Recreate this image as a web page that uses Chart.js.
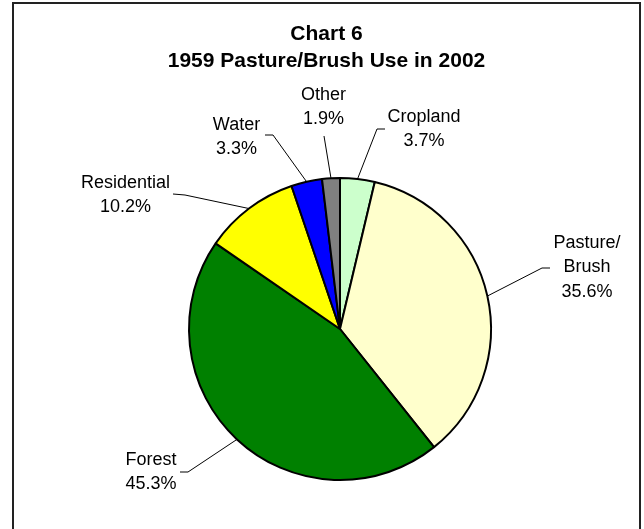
<!DOCTYPE html>
<html>
<head>
<meta charset="utf-8">
<script src="https://cdn.jsdelivr.net/npm/chart.js@4/dist/chart.umd.min.js"></script>
<style>
  html, body { margin: 0; padding: 0; background: #ffffff; }
  #c { display: block; }
</style>
</head>
<body>
<canvas id="c" width="644" height="529"></canvas>
<script>
// ---- Data ----
const titleLines = ['Chart 6', '1959 Pasture/Brush Use in 2002'];
const categories = ['Cropland', 'Pasture/Brush', 'Forest', 'Residential', 'Water', 'Other'];
const categoryLines = [['Cropland'], ['Pasture/', 'Brush'], ['Forest'], ['Residential'], ['Water'], ['Other']];
const shares = [3.7, 35.6, 45.3, 10.2, 3.3, 1.9];

// ---- Styles / layout (not data) ----
const sliceColors = ['#CCFFCC', '#FFFFCC', '#008000', '#FFFF00', '#0000FF', '#808080'];
// label placement: text centre x, first line centre y, leader start points
const labelLayout = [
  { cx: 424, y: 117, stub: [[385, 129], [377, 129]] },
  { cx: 587, y: 243, stub: [[550, 268], [542, 268]] },
  { cx: 151, y: 460, stub: [[180, 472], [188, 472]] },
  { cx: 125.5, y: 183, stub: [[173, 194], [185, 195]] },
  { cx: 236.5, y: 125, stub: [[265, 135], [273, 135]] },
  { cx: 323.5, y: 95, stub: [[324, 136]] }
];
const lineGap = 24.5;
const labelFont = '18px "Liberation Sans", Arial, sans-serif';
const titleFont = 'bold 21px "Liberation Sans", Arial, sans-serif';

const decorPlugin = {
  id: 'decor',
  beforeDraw(chart) {
    const ctx = chart.ctx;
    ctx.save();
    ctx.fillStyle = '#ffffff';
    ctx.fillRect(0, 0, chart.width, chart.height);
    ctx.strokeStyle = '#222222';
    ctx.lineWidth = 2;
    ctx.strokeRect(13, 3, 627, 560);
    ctx.restore();
  },
  afterDraw(chart) {
    const ctx = chart.ctx;
    ctx.save();
    // title
    ctx.fillStyle = '#000000';
    ctx.font = titleFont;
    ctx.textAlign = 'center';
    ctx.textBaseline = 'middle';
    ctx.fillText(titleLines[0], 326.5, 34);
    ctx.fillText(titleLines[1], 326.5, 61);

    // labels and leader lines
    const meta = chart.getDatasetMeta(0);
    meta.data.forEach((arc, i) => {
      const L = labelLayout[i];
      const mid = (arc.startAngle + arc.endAngle) / 2;
      const r = arc.outerRadius;
      const px = arc.x + Math.cos(mid) * r;
      const py = arc.y + Math.sin(mid) * r;
      ctx.strokeStyle = '#000000';
      ctx.lineWidth = 1;
      ctx.beginPath();
      ctx.moveTo(L.stub[0][0], L.stub[0][1]);
      for (let k = 1; k < L.stub.length; k++) ctx.lineTo(L.stub[k][0], L.stub[k][1]);
      ctx.lineTo(px, py);
      ctx.stroke();

      ctx.font = labelFont;
      ctx.fillStyle = '#000000';
      ctx.textAlign = 'center';
      ctx.textBaseline = 'middle';
      const lines = categoryLines[i].concat([shares[i].toFixed(1) + '%']);
      lines.forEach((t, j) => ctx.fillText(t, L.cx, L.y + j * lineGap));
    });
    ctx.restore();
  }
};

new Chart(document.getElementById('c'), {
  type: 'pie',
  data: {
    labels: categories,
    datasets: [{
      data: shares,
      backgroundColor: sliceColors,
      borderColor: '#000000',
      borderWidth: 2,
      radius: 151
    }]
  },
  options: {
    responsive: false,
    animation: false,
    layout: { padding: { left: 186, right: 150, top: 177, bottom: 48 } },
    plugins: {
      legend: { display: false },
      tooltip: { enabled: false },
      title: { display: false }
    }
  },
  plugins: [decorPlugin]
});
</script>
</body>
</html>
